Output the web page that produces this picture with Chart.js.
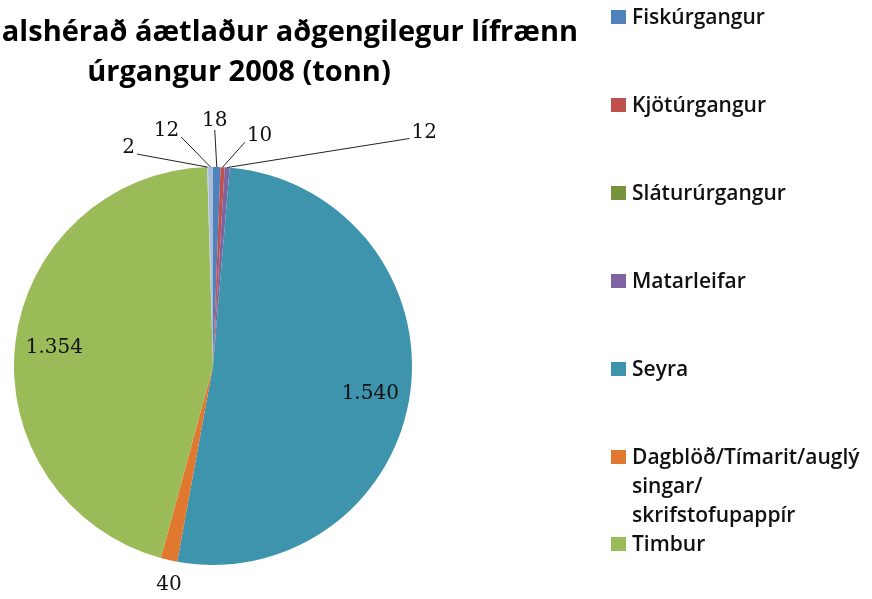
<!DOCTYPE html>
<html>
<head>
<meta charset="utf-8">
<script src="https://cdn.jsdelivr.net/npm/chart.js@4.4.0/dist/chart.umd.min.js"></script>
<style>
  body { margin: 0; background: #fff; }
  #wrap { position: relative; width: 872px; height: 599px; overflow: hidden; }
  #legend { position: absolute; left: 611px; top: 2px; font-family: "Open Sans", sans-serif; font-weight: 600; font-size: 21px; color: #111; }
  #legend .item { position: relative; padding-left: 21px; line-height: 29px; margin-bottom: 59px; white-space: nowrap; }
  #legend .item.wrapped { margin-bottom: 0; }
  #legend .box { position: absolute; left: 0; top: 8px; width: 15px; height: 14px; }
</style>
</head>
<body>
<div id="wrap">
  <canvas id="pieChart" width="872" height="599"></canvas>
  <div id="legend"></div>
</div>
<script>
// chart data
const titleLines = ['alshérað áætlaður aðgengilegur lífrænn', 'úrgangur 2008 (tonn)'];
const categories = ['Fiskúrgangur', 'Kjötúrgangur', 'Sláturúrgangur', 'Matarleifar', 'Seyra',
    'Dagblöð/Tímarit/auglýsingar/skrifstofupappír', 'Timbur', '', ''];
const values = [18, 10, 0, 12, 1540, 40, 1354, 2, 12];
const colors = ['#4F81BD', '#C0504D', '#77933C', '#8064A2', '#3E93AD', '#E0782F', '#9BBB59', '#B9C9E0', '#A8BCDB'];

// where each value label sits relative to the slice's outer edge, and whether it gets a leader line
const labelOffsets = [[-2, -46], [37, -31], null, [197, -35], [-40, 2], [0, 25], [39, 5], [-79, -19], [-44, -36]];
const leaderLines = [true, true, false, true, false, false, false, true, true];
const legendBreaks = {
    'Dagblöð/Tímarit/auglýsingar/skrifstofupappír': ['Dagblöð/Tímarit/auglý', 'singar/', 'skrifstofupappír']
};

function fmt(v) {
    return String(v).replace(/\B(?=(\d{3})+(?!\d))/g, '.');
}

const titlePlugin = {
    id: 'titleText',
    afterDraw(chart) {
        const ctx = chart.ctx;
        ctx.save();
        ctx.font = 'bold 29px "Open Sans"';
        ctx.fillStyle = '#000';
        ctx.textBaseline = 'middle';
        // first line is cut off at the left edge, like the source picture
        ctx.textAlign = 'right';
        ctx.fillText(titleLines[0], 578, 33);
        ctx.textAlign = 'center';
        ctx.fillText(titleLines[1], 239, 73);
        ctx.restore();
    }
};

const valueLabels = {
    id: 'valueLabels',
    afterDatasetsDraw(chart) {
        const ctx = chart.ctx;
        const meta = chart.getDatasetMeta(0);
        ctx.save();
        ctx.font = '20px "DejaVu Serif"';
        ctx.textAlign = 'center';
        ctx.textBaseline = 'middle';
        meta.data.forEach((arc, i) => {
            const off = labelOffsets[i];
            if (!off || !values[i]) return;
            const p = arc.getProps(['x', 'y', 'startAngle', 'endAngle', 'outerRadius'], true);
            const mid = (p.startAngle + p.endAngle) / 2;
            const ax = p.x + Math.cos(mid) * p.outerRadius;
            const ay = p.y + Math.sin(mid) * p.outerRadius;
            const lx = ax + off[0];
            const ly = ay + off[1];
            const text = fmt(values[i]);
            const w = ctx.measureText(text).width;
            if (leaderLines[i]) {
                let sx, sy;
                if (Math.abs(ax - lx) < w / 2) { sx = lx; sy = ly + 9; }
                else if (ax > lx) { sx = lx + w / 2 + 2; sy = ly + 6; }
                else { sx = lx - w / 2 - 2; sy = ly + 6; }
                ctx.strokeStyle = '#222';
                ctx.lineWidth = 1;
                ctx.beginPath();
                ctx.moveTo(sx, sy);
                ctx.lineTo(ax, ay);
                ctx.stroke();
            }
            ctx.fillStyle = '#111';
            ctx.fillText(text, lx, ly);
        });
        ctx.restore();
    }
};

const chart = new Chart(document.getElementById('pieChart').getContext('2d'), {
    type: 'pie',
    data: {
        labels: categories,
        datasets: [{
            data: values,
            backgroundColor: colors,
            borderWidth: 0,
            hoverOffset: 0,
            offset: 0
        }]
    },
    options: {
        responsive: false,
        animation: false,
        devicePixelRatio: 1,
        layout: { padding: { left: 14, top: 167, right: 460, bottom: 34 } },
        plugins: {
            legend: { display: false },
            title: { display: false },
            tooltip: { enabled: false }
        }
    },
    plugins: [titlePlugin, valueLabels]
});

// legend built from the same arrays
const legend = document.getElementById('legend');
categories.forEach((name, i) => {
    if (!name) return;
    const item = document.createElement('div');
    item.className = 'item';
    const box = document.createElement('span');
    box.className = 'box';
    box.style.background = colors[i];
    item.appendChild(box);
    const lines = legendBreaks[name] || [name];
    if (lines.length > 1) item.classList.add('wrapped');
    lines.forEach((ln, k) => {
        if (k) item.appendChild(document.createElement('br'));
        item.appendChild(document.createTextNode(ln));
    });
    legend.appendChild(item);
});
</script>
</body>
</html>
